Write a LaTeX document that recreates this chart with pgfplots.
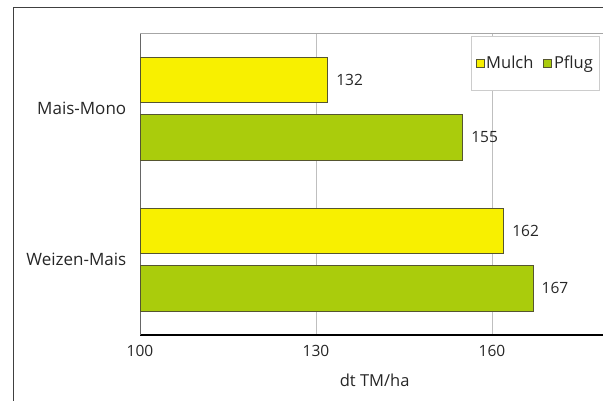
\documentclass[border=0pt]{standalone}
\usepackage{pgfplots}
\pgfplotsset{compat=1.18}
\usepackage{fontspec}
\setmainfont{Open Sans}
\definecolor{myyellow}{HTML}{F8F000}
\definecolor{mygreen}{HTML}{AACC0C}
\definecolor{myedge}{HTML}{555530}
\begin{document}
\begin{tikzpicture}
\clip (0pt,0pt) rectangle (603pt,401pt);
\draw[draw=black!75, line width=0.8pt] (13pt,-20pt) -- (13pt,394pt) -- (640pt,394pt);
\begin{axis}[
  at={(140pt,66pt)}, anchor=south west,
  scale only axis, width=469.33pt, height=302pt,
  xbar, xmin=100, xmax=180,
  ymin=-0.5, ymax=1.5,
  bar width=0.3,
  xtick={100,130,160},
  xmajorgrids, grid style={black!25, line width=0.6pt},
  ytick={0,1}, yticklabels={Weizen-Mais,Mais-Mono},
  extra y ticks={0.5}, extra y tick labels={},
  extra y tick style={major tick length=5pt, tick style={black!40}, grid=none},
  y tick style={draw=none},
  x tick style={draw=none},
  axis x line*=bottom,
  axis y line*=left,
  x axis line style={black, line width=1.2pt, -},
  y axis line style={black!60, line width=0.8pt, -},
  tick label style={font=\fontsize{15.5}{18}\selectfont, text=black!85},
  yticklabel style={font=\fontsize{17}{20}\selectfont, xshift=-6pt},
  /pgf/number format/assume math mode=true,
  xticklabel style={yshift=-7pt},
  xlabel={dt TM/ha},
  xlabel style={font=\fontsize{16.5}{19}\selectfont, text=black!85, yshift=-10pt},
  nodes near coords,
  nodes near coords style={anchor=west, xshift=5pt, font=\fontsize{15.5}{18}\selectfont, text=black!85},
  legend style={at={(0.706,0.99)}, anchor=north west, draw=black!20, line width=0.6pt,
    font=\fontsize{16.5}{19}\selectfont, text=black!85,
    legend columns=2, inner xsep=4pt, inner ysep=18pt,
    /tikz/every even column/.append style={column sep=8pt}},
  legend image code/.code={\draw[#1, line width=0.6pt] (2pt,-4pt) rectangle (10pt,4pt);},
  clip=false,
]
\draw[black!35, line width=0.8pt] (axis cs:100,1.5) -- (axis cs:185,1.5);
\addplot[fill=myyellow, draw=myedge, line width=0.6pt, bar shift=0.19] coordinates {(162,0) (132,1)};
\addplot[fill=mygreen, draw=myedge, line width=0.6pt, bar shift=-0.19] coordinates {(167,0) (155,1)};
\legend{Mulch,Pflug}
\end{axis}
\end{tikzpicture}
\end{document}
